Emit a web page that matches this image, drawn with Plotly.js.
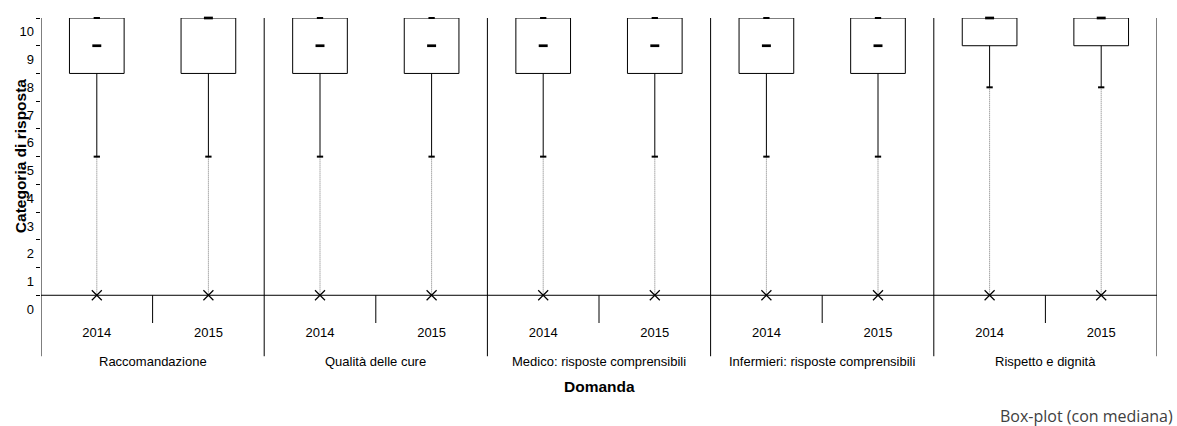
<!DOCTYPE html>
<html>
<head>
<meta charset="utf-8">
<script src="https://cdn.plot.ly/plotly-3.0.1.min.js"></script>
<style>
  html, body { margin: 0; padding: 0; background: #ffffff; }
  #chart { width: 1177px; height: 426px; }
</style>
</head>
<body>
<div id="chart"></div>
<script>
// ---- Data ----
const domande = ['Raccomandazione', 'Qualità delle cure', 'Medico: risposte comprensibili', 'Infermieri: risposte comprensibili', 'Rispetto e dignità'];
const anni = ['2014', '2015'];
const q1 =       [8.5, 8.5, 8.5, 8.5, 8.5, 8.5, 8.5, 8.5, 9.5, 9.5];
const mediana =  [9.5, 10.5, 9.5, 9.5, 9.5, 9.5, 9.5, 9.5, 10.5, 10.5];
const q3 =       [10.5, 10.5, 10.5, 10.5, 10.5, 10.5, 10.5, 10.5, 10.5, 10.5];
const baffoInf = [5.5, 5.5, 5.5, 5.5, 5.5, 5.5, 5.5, 5.5, 8.0, 8.0];
const massimo =  [10.5, 10.5, 10.5, 10.5, 10.5, 10.5, 10.5, 10.5, 10.5, 10.5];
const minimo =   [0.5, 0.5, 0.5, 0.5, 0.5, 0.5, 0.5, 0.5, 0.5, 0.5];
const categorieY = [0, 1, 2, 3, 4, 5, 6, 7, 8, 9, 10];

// ---- Derived structures ----
const xs = [], tickText = [];
domande.forEach((d, g) => anni.forEach((a, k) => { xs.push(g * anni.length + k); tickText.push(a); }));

const wX = [], wY = [], dX = [], dY = [];
xs.forEach((x, i) => {
  wX.push(x, x, null); wY.push(q1[i], baffoInf[i], null);
  dX.push(x, x, null); dY.push(baffoInf[i], minimo[i], null);
});

const FONT = 'Liberation Sans, Arial, sans-serif';

const traces = [
  { type: 'scatter', mode: 'lines', x: dX, y: dY, line: { color: '#7a7a7a', width: 1, dash: '1px,1px' }, hoverinfo: 'skip', cliponaxis: false },
  { type: 'scatter', mode: 'lines', x: wX, y: wY, line: { color: '#000', width: 1 }, hoverinfo: 'skip', cliponaxis: false },
  { type: 'bar', x: xs, base: q1, y: q3.map((v, i) => v - q1[i]), width: 0.49,
    marker: { color: '#ffffff', line: { color: '#000', width: 1 } }, cliponaxis: false, hoverinfo: 'skip' },
  { type: 'scatter', mode: 'markers', x: xs, y: baffoInf,
    marker: { symbol: 'line-ew', size: 4.5, line: { color: '#000', width: 2 } }, cliponaxis: false },
  { type: 'scatter', mode: 'markers', x: xs, y: massimo,
    marker: { symbol: 'line-ew', size: 4.5, line: { color: '#000', width: 2 } }, cliponaxis: false },
  { type: 'scatter', mode: 'markers', x: xs, y: mediana,
    marker: { symbol: 'line-ew', size: 6.4, line: { color: '#000', width: 2.7 } }, cliponaxis: false },
  { type: 'scatter', mode: 'markers', x: xs, y: minimo,
    marker: { symbol: 'x-thin', size: 10, line: { color: '#000', width: 1.2 } }, cliponaxis: false },
  // invisible trace to activate the tick axis
  { type: 'scatter', mode: 'markers', x: [0], y: [5], yaxis: 'y2', marker: { opacity: 0 }, hoverinfo: 'skip' }
];

const shapes = [];
for (let g = 0; g <= domande.length; g++) {
  shapes.push({ type: 'line', xref: 'x', yref: 'paper', x0: g * 2 - 0.5, x1: g * 2 - 0.5, y0: 1, y1: -0.109,
    line: { color: '#000', width: 1 } });
}
for (let g = 0; g < domande.length; g++) {
  shapes.push({ type: 'line', xref: 'x', yref: 'y', x0: g * 2 + 0.5, x1: g * 2 + 0.5, y0: 0.5, y1: -0.58,
    line: { color: '#000', width: 1 } });
}
shapes.push({ type: 'line', xref: 'x', yref: 'y', x0: -0.5, x1: xs.length - 0.5, y0: 0.5, y1: 0.5,
  line: { color: '#000', width: 1 } });

const annotations = domande.map((d, g) => ({
  text: d, xref: 'x', yref: 'paper', x: g * 2 + 0.5, y: -0.1257, xanchor: 'center', yanchor: 'middle',
  showarrow: false, font: { family: FONT, size: 13, color: '#000' }
}));
annotations.push({ text: '<b>Domanda</b>', xref: 'paper', yref: 'paper', x: 0.5, y: -0.207,
  xanchor: 'center', yanchor: 'middle', showarrow: false, font: { family: FONT, size: 15.5, color: '#000' } });
annotations.push({ text: '<b>Categoria di risposta</b>', xref: 'paper', yref: 'paper', x: -0.0188, y: 0.547,
  xanchor: 'center', yanchor: 'middle', textangle: -90, showarrow: false, font: { family: FONT, size: 15.5, color: '#000' } });
annotations.push({ text: 'Box-plot (con mediana)', xref: 'paper', yref: 'paper', x: 1.016, y: -0.306,
  xanchor: 'right', yanchor: 'middle', showarrow: false, font: { family: 'Open Sans, Noto Sans, sans-serif', size: 16, color: '#404040' } });

const layout = {
  width: 1177, height: 426,
  margin: { l: 41, r: 20, t: 18, b: 103, pad: 0 },
  paper_bgcolor: '#ffffff', plot_bgcolor: '#ffffff',
  showlegend: false,
  font: { family: FONT, size: 13, color: '#000' },
  xaxis: { range: [-0.5, xs.length - 0.5], tickvals: xs, ticktext: tickText, ticks: '', showgrid: false,
    zeroline: false, showline: false, fixedrange: true, tickfont: { family: FONT, size: 13, color: '#000' } },
  yaxis: { range: [-0.5, 10.5], tickvals: categorieY, ticktext: categorieY.map(String), ticks: '', showgrid: false,
    zeroline: false, showline: false, fixedrange: true, ticklabelstandoff: 6, tickfont: { family: FONT, size: 13, color: '#000' } },
  yaxis2: { overlaying: 'y', side: 'left', range: [-0.5, 10.5], tickvals: categorieY.map(v => v + 0.5), showticklabels: false,
    ticks: 'outside', ticklen: 4, tickwidth: 1, tickcolor: '#000', showgrid: false, zeroline: false, showline: false, fixedrange: true },
  shapes: shapes,
  annotations: annotations
};

Plotly.newPlot('chart', traces, layout, { staticPlot: true, displayModeBar: false });
</script>
</body>
</html>
